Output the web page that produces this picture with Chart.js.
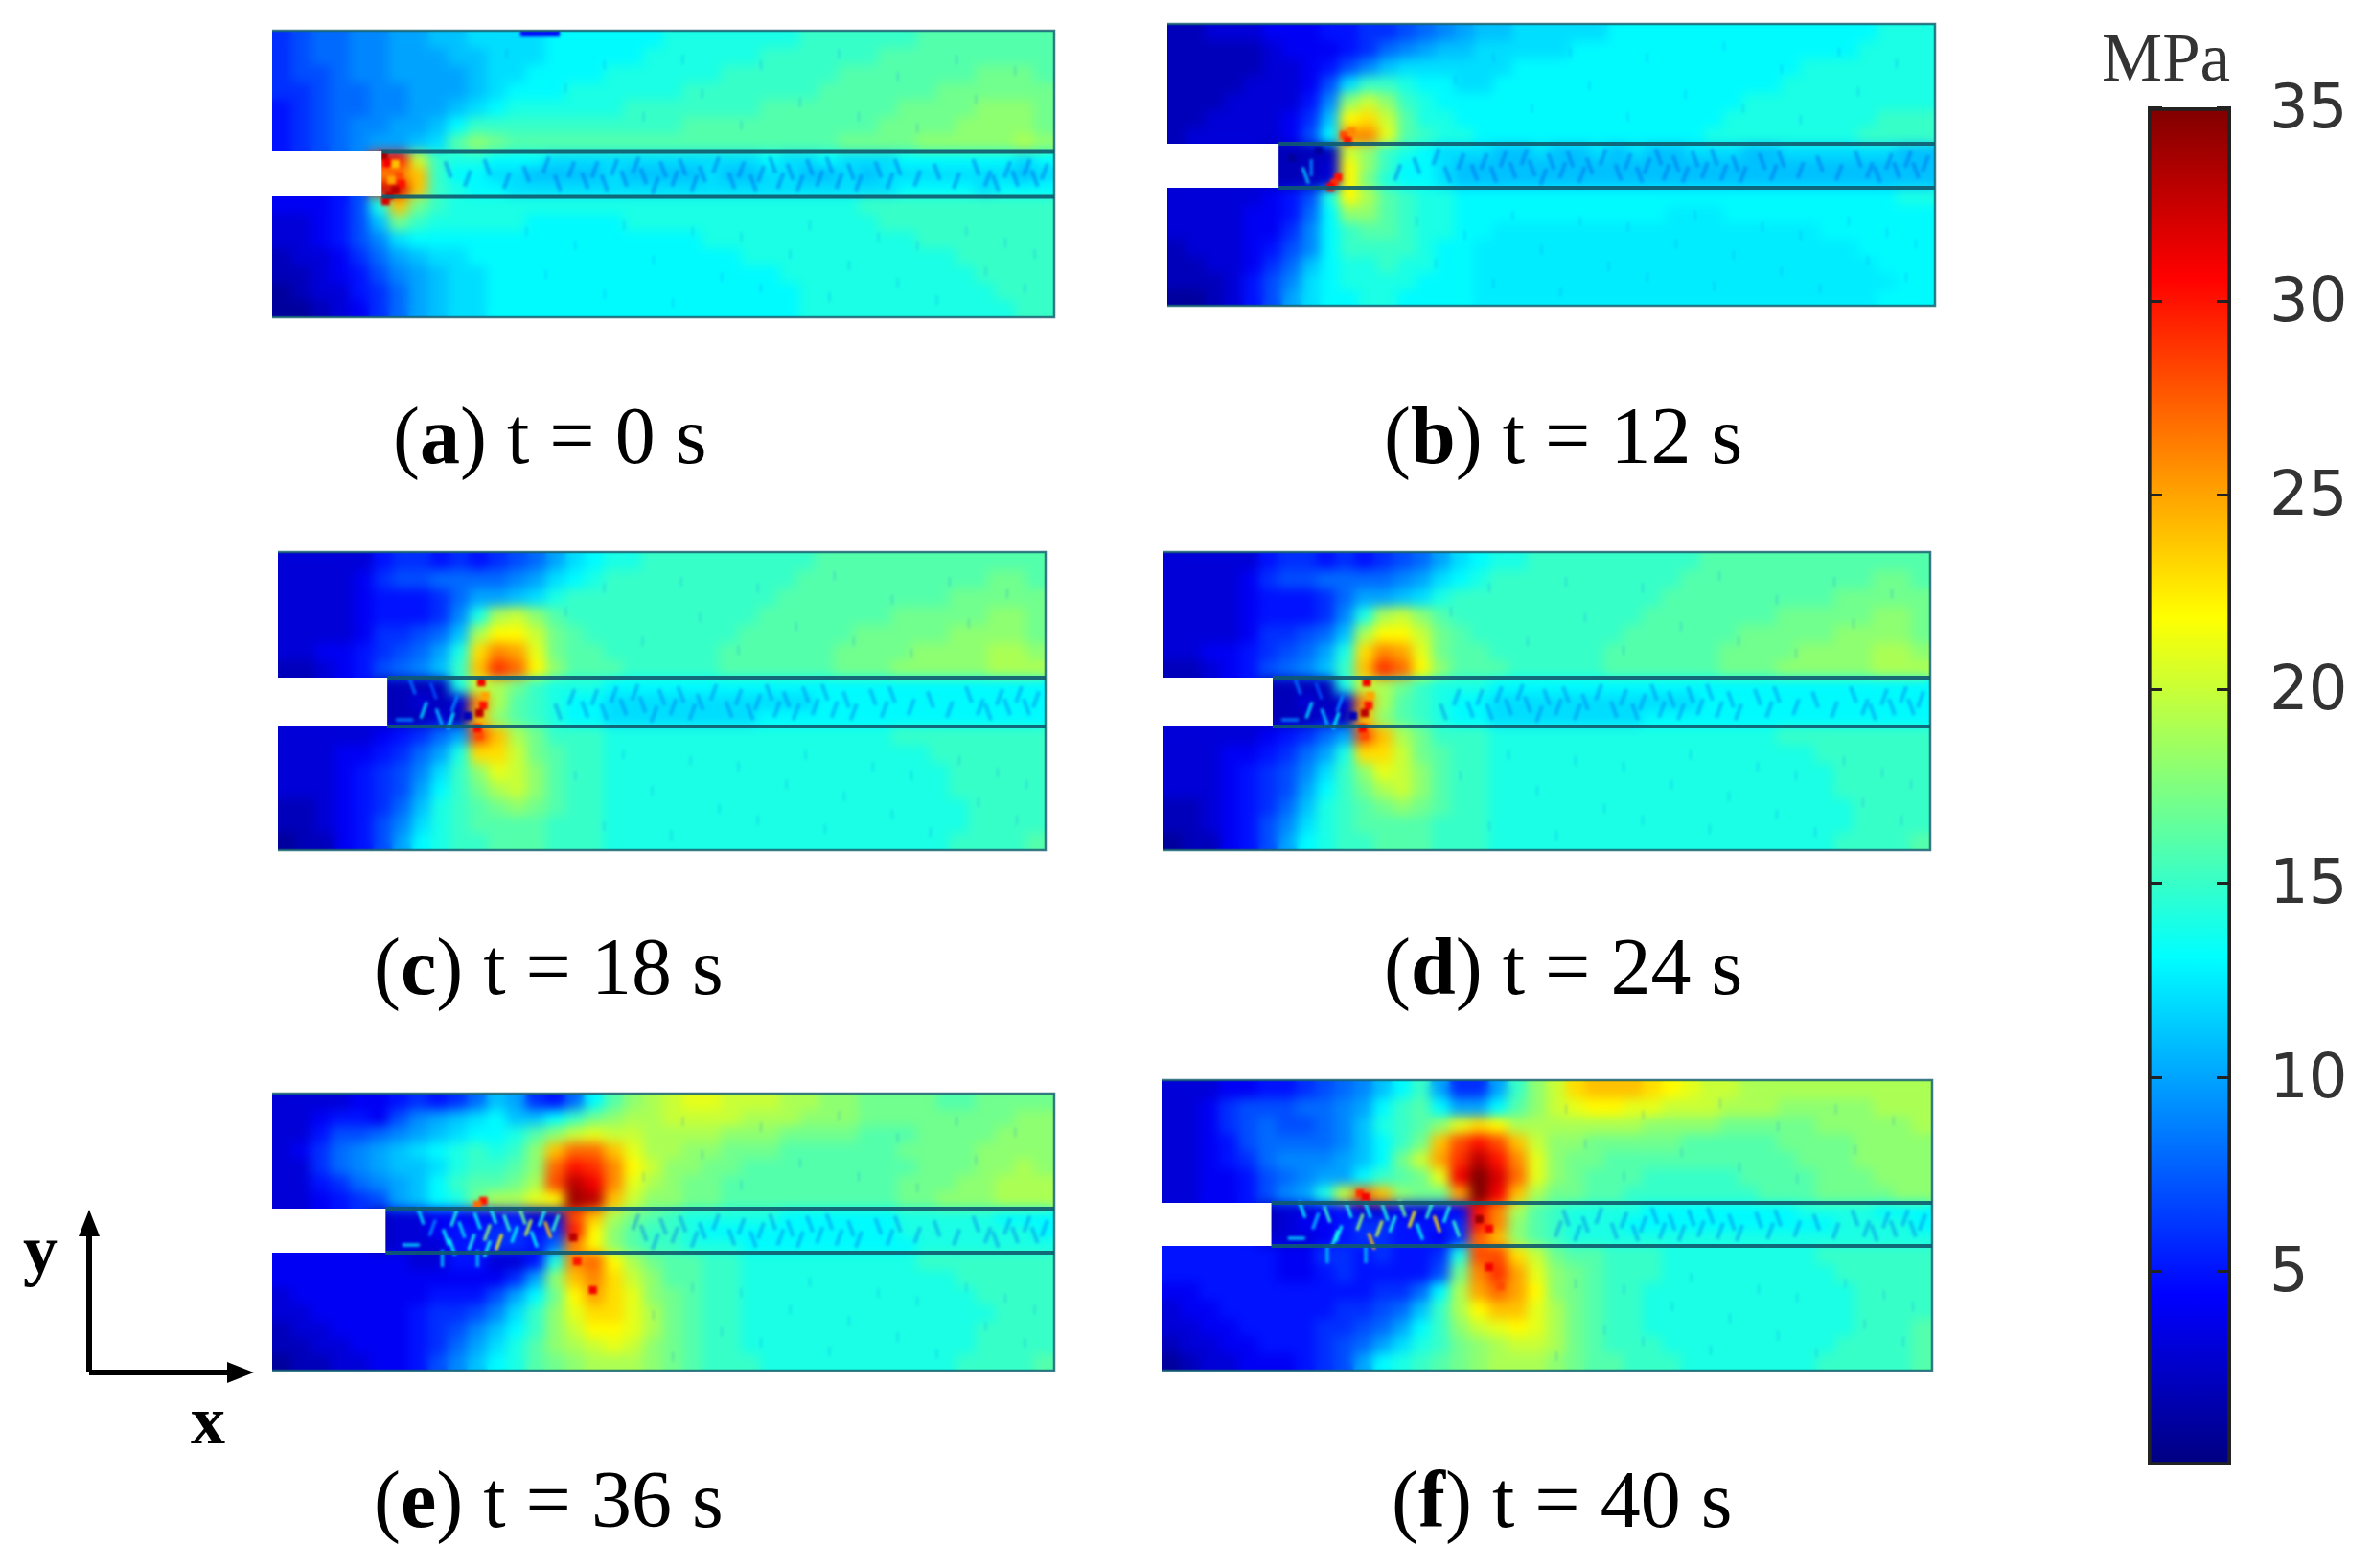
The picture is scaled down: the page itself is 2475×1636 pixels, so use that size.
<!DOCTYPE html>
<html>
<head>
<meta charset="utf-8">
<title>Stress field</title>
<script src="https://cdn.jsdelivr.net/npm/chart.js@4"></script>
<style>
  html, body { margin: 0; background: #fff; }
  #page { position: relative; width: 2475px; height: 1636px; overflow: hidden; }
  #page canvas { position: absolute; }
  .cap { position: absolute; font-family: "Liberation Serif", serif; font-size: 84px; line-height: 84px; color: #000; white-space: pre; }
  .axisName { position: absolute; font-family: "Liberation Serif", serif; font-weight: bold; font-size: 72px; line-height: 72px; color: #000; }
  #unit { position: absolute; left: 2193px; top: 24px; font-family: "Liberation Serif", serif; font-size: 71px; line-height: 72px; color: #333; }
  #axes { position: absolute; left: 0; top: 0; }
</style>
</head>
<body>
<div id="page">
  <svg id="axes" width="300" height="1500">
    <path d="M93 1432 V1285 M93 1432 H240" stroke="#000" stroke-width="6" fill="none"/>
    <path d="M93 1262 L82 1290 H104 Z M265 1432 L237 1421 V1443 Z" fill="#000"/>
  </svg>
  <div class="axisName" style="left:24px;top:1268px">y</div>
  <div class="axisName" style="left:199px;top:1446px">x</div>
  <div id="unit">MPa</div>
</div>
<script>
const n = null;
const captions = ["a", "b", "c", "d", "e", "f"];
const times = [0, 12, 18, 24, 36, 40];

// stress (MPa), 40 columns, rows top to bottom
const stressA = [
  [6,7,8,8,9,9,10,10,11,11,12,12,12,12,13,13,13,13,13,13,14,14,14,14,14,14,14,15,15,15,15,15,15,16,16,16,16,16,16,16],
  [6,7,8,8,9,9,10,10,10,11,11,12,12,12,13,13,13,13,13,14,14,14,14,14,14,15,15,15,15,15,15,16,16,16,16,16,16,16,16,16],
  [6,7,7,8,9,9,10,10,10,10,11,12,12,13,13,13,13,14,14,14,14,14,14,15,15,15,15,15,15,16,16,16,16,16,16,16,17,17,17,16],
  [6,6,7,8,8,9,9,10,10,10,11,12,13,13,13,14,14,14,14,14,14,15,15,15,15,15,15,15,16,16,16,16,16,16,17,17,17,17,17,17],
  [5,6,7,8,8,9,9,10,10,11,12,13,14,14,14,14,14,14,15,15,15,15,15,15,15,16,16,16,16,16,16,16,17,17,17,17,18,18,18,17],
  [5,6,7,8,9,9,10,10,11,13,15,15,15,15,15,15,15,15,15,15,15,16,16,16,16,16,16,16,16,16,16,17,17,17,17,18,18,18,18,17],
  [5,6,7,8,9,10,10,11,12,16,18,17,16,16,16,16,16,16,16,16,16,16,16,16,16,16,16,16,16,17,17,17,17,18,18,18,18,18,19,18],
  [n,n,n,n,n,30,30,20,15,14,14,13,13,13,12,12,12,12,12,12,12,12,12,12,12,13,12,12,13,12,12,12,13,13,13,13,13,13,12,13],
  [n,n,n,n,n,26,26,24,15,13,13,12,12,11,11,11,11,12,11,11,11,11,12,11,11,12,12,11,11,12,11,12,12,12,12,12,12,12,11,12],
  [n,n,n,n,n,32,32,24,15,14,13,13,12,12,12,12,12,12,12,12,12,12,12,12,12,12,12,12,12,12,12,12,13,13,13,13,12,13,13,13],
  [4,4,4,5,7,14,24,17,15,14,14,14,14,14,14,14,14,14,14,14,14,14,14,14,14,14,14,14,14,14,15,15,15,15,15,15,15,15,15,15],
  [3,3,4,5,7,11,17,15,14,14,14,14,14,13,13,13,13,13,14,14,14,14,14,14,14,14,14,14,14,14,14,15,15,15,15,15,15,15,15,15],
  [3,3,4,5,7,9,12,13,13,13,13,13,13,13,13,13,13,13,13,13,13,13,14,14,14,14,14,14,14,14,14,14,14,15,15,15,15,15,15,15],
  [2,3,3,4,6,8,10,11,12,12,13,13,13,13,13,13,13,13,13,13,13,13,13,13,14,14,14,14,14,14,14,14,14,14,14,15,15,15,15,15],
  [2,2,3,4,5,7,9,10,11,12,12,13,13,13,13,13,13,13,13,13,13,13,13,13,13,13,14,14,14,14,14,14,14,14,14,14,15,15,15,15],
  [1,2,3,3,5,6,8,10,11,12,12,13,13,13,13,13,13,13,13,13,13,13,13,13,13,13,13,14,14,14,14,14,14,14,14,14,14,15,15,15],
  [1,1,2,3,4,6,8,10,11,12,12,13,13,13,13,13,13,13,13,13,13,13,13,13,13,13,13,14,14,14,14,14,14,14,14,14,14,14,15,15],
];
const stressB = [
  [2,2,3,3,3,4,4,4,5,5,6,6,7,8,9,10,11,11,12,12,12,12,12,13,13,13,13,13,13,13,13,13,13,13,13,13,13,14,14,14],
  [2,2,2,2,2,3,4,4,4,5,6,8,9,10,11,11,12,12,12,12,12,13,13,13,13,13,13,13,13,13,13,13,13,13,13,13,14,14,14,14],
  [2,2,2,2,2,3,3,4,5,7,9,11,12,12,12,12,12,12,13,13,13,13,13,13,13,13,13,13,13,13,13,13,13,14,14,14,14,14,14,14],
  [2,2,2,2,3,3,3,4,7,12,15,15,14,13,13,12,12,13,13,13,13,13,13,13,13,13,13,13,13,13,13,13,14,14,14,14,14,14,14,14],
  [2,2,2,3,3,3,3,5,9,18,20,18,15,14,13,13,13,13,13,13,13,13,13,13,13,13,13,13,13,13,14,14,14,14,14,14,14,14,14,14],
  [2,2,3,3,3,3,4,6,11,22,23,20,16,14,14,13,13,13,13,13,13,13,13,13,13,13,13,13,13,14,14,14,14,14,14,14,14,15,15,15],
  [2,3,3,3,3,3,4,7,13,26,26,21,16,15,14,14,13,13,13,13,13,13,13,13,13,13,13,13,14,14,14,14,14,14,14,14,15,15,15,15],
  [n,n,n,n,n,2,2,2,2,20,18,15,14,13,12,12,12,11,11,12,11,11,12,11,12,11,11,12,12,12,11,11,12,12,12,12,12,12,11,11],
  [n,n,n,n,n,2,2,2,3,22,18,15,13,13,12,11,11,11,11,11,11,11,11,11,11,11,11,11,11,11,11,11,11,11,11,11,11,11,11,11],
  [n,n,n,n,n,2,2,2,3,22,17,14,13,13,12,11,11,11,11,11,11,11,11,11,11,11,11,11,11,11,11,11,11,11,11,11,11,11,11,11],
  [3,3,3,3,3,4,5,7,14,22,19,16,15,14,14,13,13,13,13,13,13,13,13,13,13,13,13,13,13,13,13,13,13,13,13,13,13,13,14,14],
  [3,3,3,3,4,4,5,8,13,18,18,16,15,14,14,13,13,13,13,13,13,13,13,13,13,13,12.5,12.5,12.5,13,13,13,13,13,13,13,13,13,13,13],
  [3,3,3,3,4,4,6,9,13,15,16,16,15,14,14,13,13,12.5,12.5,12.5,12.5,12.5,12.5,12.5,12.5,12.5,12.5,12.5,12.5,12.5,12.5,12.5,12.5,12.5,13,13,13,13,13,13],
  [2,3,3,3,4,5,7,9,13,15,15,15,15,14,13,13,12.5,12.5,12.5,12.5,12.5,12.5,12.5,12.5,12.5,12.5,12.5,12.5,12.5,12.5,12.5,12.5,12.5,12.5,12.5,12.5,13,13,13,13],
  [2,2,3,3,4,6,8,11,13,14,14,15,14,14,13,13,12.5,12.5,12.5,12.5,12.5,12.5,12.5,12.5,12.5,12.5,12.5,12.5,12.5,12.5,12.5,12.5,12.5,12.5,12.5,12.5,12.5,13,13,13],
  [2,2,2,3,5,7,9,12,13,14,14,14,14,13,13,13,12.5,12.5,12.5,12.5,12.5,12.5,12.5,12.5,12.5,12.5,12.5,12.5,12.5,12.5,12.5,12.5,12.5,12.5,12.5,12.5,12.5,12.5,13,13],
  [1,1,2,3,5,7,10,12,13,13,14,14,13,13,13,13,12.5,12.5,12.5,12.5,12.5,12.5,12.5,12.5,12.5,12.5,12.5,12.5,12.5,12.5,12.5,12.5,12.5,12.5,12.5,12.5,12.5,13,13,13],
];
// panels (c) and (d) show the same field
const stressC = [
  [3,3,3,3,3,5,6,6,5,6,5,6,7,8,10,12,13,14,14,15,15,15,15,15,15,15,15,15,16,16,16,16,16,16,16,16,16,16,16,16],
  [3,3,3,3,4,6,7,7,8,8,8,8,9,10,12,13,14,15,15,15,15,15,15,15,15,15,15,16,16,16,16,16,16,16,16,16,16,17,17,16],
  [3,3,3,3,4,5,5,5,6,8,10,10,11,12,14,15,15,15,15,15,15,15,15,15,15,15,16,16,16,16,16,16,16,16,16,17,17,17,17,17],
  [3,3,3,3,4,5,5,5,6,9,14,19,20,18,16,15,15,15,15,15,15,15,15,15,15,16,16,16,16,16,16,16,17,17,17,17,17,18,18,17],
  [3,3,3,3,4,6,6,7,8,11,19,22,22,20,17,16,15,15,15,15,15,15,15,15,16,16,16,16,16,16,17,17,17,17,17,18,18,18,18,17],
  [3,3,4,4,5,6,7,8,10,14,23,26,25,21,17,16,16,15,15,15,15,15,15,16,16,16,16,16,16,17,17,17,17,18,18,18,18,19,19,18],
  [2,2,3,4,5,7,8,9,11,15,24,29,27,22,18,16,16,16,15,15,15,15,15,16,16,16,16,16,16,17,17,17,18,18,18,18,18,19,19,19],
  [n,n,n,n,n,2,2,2,2,14,20,19,17,15,14,14,14,13,13,13,13,13,13,13,13,13,13,13,13,13,13,13,13,13,13,13,13,13,13,13],
  [n,n,n,n,n,2,2,3,2,3,26,19,16,15,14,13,13,12,12,12,12,12,12,12,12,12,12,12,13,13,13,13,13,13,13,13,13,13,13,13],
  [n,n,n,n,n,2,2,2,3,2,24,18,16,15,14,13,13,12,12,12,12,12,12,12,12,13,13,13,13,13,13,13,13,13,13,13,13,13,13,13],
  [3,3,3,3,3,4,5,6,8,10,28,24,19,17,15,15,15,14,14,14,14,14,14,14,14,14,14,14,14,14,14,14,15,15,15,15,15,15,15,15],
  [3,3,3,4,4,5,6,8,10,14,23,23,20,17,16,15,15,14,14,14,14,14,14,14,14,14,14,14,14,14,14,14,14,14,15,15,15,15,15,15],
  [3,3,3,4,5,6,7,9,12,15,18,21,20,18,16,15,15,14,14,14,14,14,14,14,14,14,14,14,14,14,14,14,14,14,14,15,15,15,15,15],
  [3,3,3,4,5,6,7,10,13,15,17,19,20,18,16,15,15,14,14,14,14,14,14,14,14,14,14,14,14,14,14,14,14,14,14,15,15,15,15,15],
  [2,2,3,4,5,6,8,11,14,15,16,17,18,17,16,15,15,14,14,14,14,14,14,14,14,14,14,14,14,14,14,14,14,14,14,14,15,15,15,15],
  [2,2,3,4,5,7,9,12,14,15,16,16,16,16,15,15,15,14,14,14,14,14,14,14,14,14,14,14,14,14,14,14,14,14,14,14,15,15,15,15],
  [1,2,2,4,5,7,10,13,14,15,15,16,16,16,15,15,15,14,14,14,14,14,14,14,14,14,14,14,14,14,14,14,14,14,14,15,15,15,15,16],
];
const stressE = [
  [3,3,3,3,4,4,5,6,5,6,8,11,10,6,5,8,13,16,18,19,20,21,21,20,20,20,19,19,18,18,17,17,17,17,16,16,17,17,17,17],
  [3,3,4,5,5,4,7,9,10,11,12,13,11,11,13,15,17,18,19,19,20,20,20,20,19,19,19,18,18,18,17,17,17,17,17,17,17,17,18,18],
  [3,3,5,7,7,8,9,10,11,12,13,13,14,16,18,20,21,20,20,19,19,19,19,18,18,18,17,17,17,17,16,16,16,17,17,17,17,18,18,18],
  [3,4,6,8,9,10,11,12,13,14,15,14,15,18,24,27,27,24,21,19,19,18,18,17,17,17,16,16,16,16,16,16,17,17,17,17,18,18,18,18],
  [3,3,6,8,9,10,11,11,12,14,15,15,16,18,27,30,29,26,22,20,18,18,17,17,16,16,16,16,16,16,16,16,16,17,17,17,18,18,19,18],
  [3,3,5,6,8,9,10,11,13,15,16,16,17,19,28,33,31,26,21,19,18,17,17,16,16,16,16,16,16,16,16,16,17,17,17,18,18,19,19,19],
  [3,3,4,5,6,7,10,11,13,14,17,19,19,21,22,34,33,24,20,18,18,17,17,16,16,16,16,16,16,16,16,16,17,17,18,18,18,19,19,19],
  [n,n,n,n,n,2,3,3,4,4,4,4,5,3,3,28,24,19,17,16,15,14,14,14,14,14,13,13,13,13,13,13,14,14,14,14,14,13,13,13],
  [n,n,n,n,n,2,3,3,4,5,5,6,6,5,6,30,22,18,16,15,15,14,13,13,13,13,13,13,13,13,13,13,14,14,14,14,14,14,14,13],
  [n,n,n,n,n,2,3,3,3,5,5,6,6,5,8,26,22,18,16,15,15,14,14,14,13,13,13,13,13,13,13,13,13,14,14,14,14,14,14,14],
  [4,4,4,4,4,4,4,3,3,5,5,3,3,5,14,26,27,22,19,17,16,16,15,15,14,14,14,14,14,14,14,14,14,15,15,15,15,15,15,15],
  [4,4,4,4,4,4,4,4,4,4,4,4,6,10,18,24,26,23,20,18,16,16,15,15,14,14,14,14,14,14,14,14,14,14,14,15,15,15,15,15],
  [3,4,4,4,4,4,4,4,5,5,5,7,10,13,17,22,25,23,21,18,17,16,15,15,14,14,14,14,14,14,14,14,14,14,14,14,15,15,15,15],
  [3,3,4,4,4,4,4,5,6,6,7,9,12,15,18,21,23,23,21,19,17,16,15,15,14,14,14,14,14,14,14,14,14,14,14,14,14,15,15,15],
  [2,3,3,4,4,4,4,5,6,7,9,11,13,15,18,20,22,22,21,19,17,16,15,15,14,14,14,14,14,14,14,14,14,14,14,14,15,15,15,15],
  [2,2,3,3,4,4,4,5,6,8,10,12,14,16,18,19,20,21,20,18,17,16,15,15,14,14,14,14,14,14,14,14,14,14,14,14,15,15,15,15],
  [1,2,2,3,3,4,4,5,7,9,11,13,14,16,17,18,19,19,19,18,17,16,15,15,15,14,14,14,14,14,14,14,14,14,14,15,15,15,15,16],
];
const stressF = [
  [3,3,3,4,4,5,5,6,7,8,9,11,13,15,10,6,6,10,15,18,20,23,24,24,24,23,22,21,20,20,19,19,19,19,19,19,19,19,19,19],
  [3,3,4,6,7,7,7,8,8,9,10,13,15,16,13,10,10,13,16,18,20,21,22,22,21,21,20,20,20,19,19,19,18,18,18,18,18,19,19,19],
  [3,3,4,6,7,8,7,7,8,9,11,14,15,16,18,21,23,22,19,19,19,19,19,19,19,18,18,18,18,17,17,17,17,17,18,18,18,18,18,19],
  [3,3,4,5,7,8,8,8,8,9,11,13,15,17,24,28,30,28,24,20,18,18,17,17,17,17,17,16,16,16,16,16,17,17,17,17,18,18,18,18],
  [3,3,4,5,6,8,9,9,9,10,11,13,17,20,25,29,33,30,26,21,18,17,17,16,16,16,16,16,16,16,16,16,16,17,17,17,18,18,18,18],
  [3,3,4,4,5,7,8,9,10,10,13,15,16,17,21,31,35,32,27,21,18,17,16,16,16,15,15,15,15,15,16,16,16,16,17,17,17,18,18,18],
  [3,3,4,4,5,7,9,10,14,20,27,24,18,17,17,25,35,31,24,19,17,17,16,16,15,15,15,15,15,15,15,16,16,16,17,17,17,17,18,18],
  [n,n,n,n,n,2,3,3,4,5,3,3,4,3,4,4,30,26,19,16,15,14,14,14,14,13,13,13,13,13,13,13,13,14,14,14,14,13,13,13],
  [n,n,n,n,n,2,3,4,4,5,6,6,5,5,5,6,30,26,18,16,15,14,14,14,13,13,13,13,13,13,13,13,13,13,13,14,14,14,14,13],
  [n,n,n,n,n,3,3,3,4,5,6,6,5,5,4,6,27,24,18,16,15,14,14,14,14,14,14,14,14,14,14,14,14,14,14,14,14,14,14,14],
  [5,5,5,5,5,5,4,4,6,6,5,6,5,5,6,14,28,28,23,20,17,16,16,15,15,15,14,14,14,14,14,14,14,14,15,15,15,15,15,15],
  [5,5,5,5,5,5,4,4,5,6,5,5,5,5,7,17,26,29,25,21,18,17,16,15,15,15,14,14,14,14,14,14,14,14,14,15,15,15,15,15],
  [4,4,5,5,5,5,5,5,5,5,5,6,6,8,13,19,25,27,25,22,18,17,16,15,15,14,14,14,14,14,14,14,14,14,14,14,15,15,15,15],
  [3,4,4,5,5,5,5,5,5,6,6,7,8,11,15,19,22,24,24,21,19,17,16,15,15,14,14,14,14,14,14,14,14,14,14,14,15,15,15,15],
  [3,3,4,4,5,5,5,5,6,6,7,8,10,13,15,18,20,21,22,21,19,17,16,15,15,14,14,14,14,14,14,14,14,14,14,14,15,15,15,16],
  [2,3,3,4,4,5,5,5,6,7,8,10,12,14,15,17,18,19,20,20,19,17,16,15,15,15,14,14,14,14,14,14,14,14,14,15,15,15,15,16],
  [1,2,3,3,4,4,4,5,6,7,10,13,14,15,16,17,18,19,19,19,18,17,16,16,15,15,15,14,14,14,14,14,14,14,15,15,15,15,15,16],
];

// row heights of each field, top to bottom
const rowsA = [18,18,18,18,18,18,18,16,16,15,18,18,18,18,18,18,18];
const rowsB = [18,18,18,18,18,18,17,16,15,15,18,18,18,18,17,17,17];
const rowsC = [19,19,19,19,19,18,18,17,17,17,19,19,19,18,18,18,18];
const rowsE = [17,17,17,17,17,17,18,16,15,15,18,18,18,18,17,17,17];
const rowsF = [19,19,18,18,18,18,18,15,15,15,19,19,19,19,18,18,18];

// fine grains on top of the smooth field: [column, height from top, MPa, tilt of a streak if it is one]
const grainsA = [[12.9,2,5],[13.3,2,5],[13.7,2,5],[14.1,2,5],[14.5,2,5],[5.7,130,34],[5.9,138,31],[6.2,146,27],[6.5,152,28],[6.6,160,30],[6.3,166,33],[6,172,33],[5.8,178,32],[6.3,139,24],[6.1,156,25]];
const grainsB = [[9.2,116,28],[9.6,112,26],[9.4,122,30],[8.9,160,30],[8.7,166,29],[8.5,170,31],[6.5,140,1],[7.5,150,9,90],[7.9,132,1],[7.2,158,11,70]];
const grainsC = [[10.6,136,31],[10.8,150,25],[10.7,160,30],[10.5,168,33],[9.9,171,2],[10.4,184,31],[7,140,8,70],[7.6,165,12,110],[8.4,172,11,70],[9,176,13,110],[8.1,145,7,70],[9.2,158,9,110],[6.6,175,9,0],[10.5,192,28]];
const grainsE = [[7.6,128,12,70],[8.2,140,9,110],[8.9,150,13,70],[9.3,130,14,110],[9.7,142,12,70],[10.2,155,14,110],[10.5,133,13,70],[11,145,18,110],[11.3,127,14,70],[11.6,155,22,110],[12,135,15,70],[12.4,147,13,110],[12.8,128,17,70],[13.1,140,20,110],[13.4,152,13,70],[13.8,130,14,110],[14.1,142,24,70],[14.5,135,15,110],[9.2,160,13,70],[11,162,14,110],[7.1,158,12,0],[8.7,172,11,90],[10.5,172,11,90],[10.8,112,30],[10.5,116,27],[15.4,150,33],[15.6,175,30],[16.4,205,31]];
const grainsF = [[7.3,135,13,70],[8,147,11,110],[8.6,140,15,70],[9.2,160,13,110],[9.7,135,14,70],[10.3,148,18,110],[10.7,135,13,70],[11.3,155,20,110],[11.6,138,14,70],[12,150,14,110],[12.5,134,17,70],[13,145,22,110],[13.4,158,13,70],[13.9,136,15,110],[14.3,150,23,70],[14.8,140,14,110],[15.3,155,15,70],[9,165,14,110],[10.9,168,24,70],[7,165,12,0],[8.6,182,11,90],[10.6,182,11,90],[10.3,118,29],[10.6,122,31],[16.5,145,34],[17,155,31],[17,195,31],[17.6,215,28]];

// darker streaks in the band right of the crack: [column, share of the band height, tilt]
const bandStreaks = [[9,.4,70],[10,.6,110],[11,.35,70],[12,.65,110],[13,.5,70],[14,.3,110],[14.6,.7,70],[15.3,.4,110],[16,.65,70],[16.5,.4,110],[17,.7,70],[17.5,.35,110],[18,.6,70],[18.6,.3,110],[19,.55,70],[19.6,.75,110],[20,.4,70],[20.6,.6,110],[21,.35,70],[21.6,.7,110],[22,.5,70],[22.7,.3,110],[23.5,.65,70],[24,.4,110],[24.6,.7,70],[25,.5,110],[25.6,.3,70],[26,.65,110],[26.5,.45,70],[27,.7,110],[27.5,.35,70],[28,.6,110],[28.5,.3,70],[29,.65,110],[29.6,.45,70],[30,.7,110],[31,.4,70],[31.6,.65,110],[32,.35,70],[33,.6,110],[34,.45,70],[35,.65,110],[36,.35,70],[36.6,.6,110],[37,.7,70],[37.6,.4,110],[38,.6,70],[38.6,.35,110],[39,.6,70],[39.5,.45,110]];

// faint specks all over the two solid blocks: [column, share of the panel height]
const fieldSpecks = [[12,.08],[15,.2],[17,.12],[19,.3],[21,.1],[22,.22],[24,.33],[25,.12],[27,.25],[29,.08],[30,.3],[32,.16],[33,.34],[35,.1],[36,.24],[38,.14],[13,.7],[14,.85],[15.5,.75],[17,.92],[18,.68],[19.5,.8],[20.5,.95],[21.5,.7],[23,.86],[24,.72],[25,.9],[26.5,.78],[27.5,.68],[28.5,.93],[29.5,.82],[31,.72],[32,.88],[33,.75],[34,.94],[35.5,.7],[36.5,.84],[37.5,.74],[38.5,.9],[39,.78]];

// colour bar
const barRange = [0, 35];
const barTicks = [5, 10, 15, 20, 25, 30, 35];

// jet colour map
const jetStops = [[0, [0,0,128]], [.125, [0,0,255]], [.375, [0,255,255]], [.625, [255,255,0]], [.875, [255,0,0]], [1, [128,0,0]]];

function jet(v) {
  const t = Math.min(1, Math.max(0, v / barRange[1]));
  for (let i = 1; i < jetStops.length; i++) {
    if (t <= jetStops[i][0]) {
      const [t0, c0] = jetStops[i - 1];
      const [t1, c1] = jetStops[i];
      const f = (t - t0) / (t1 - t0);
      return `rgb(${c0.map((c, k) => Math.round(c + (c1[k] - c) * f)).join(",")})`;
    }
  }
  return "rgb(128,0,0)";
}

const page = document.getElementById("page");

// softens what has been drawn so far, after the datasets that ask for it
const smoothPlugin = {
  id: "smooth",
  afterDatasetDraw(chart, args) {
    const blur = chart.data.datasets[args.index].blurAfter;
    if (!blur) return;
    const { ctx, chartArea: a } = chart;
    ctx.save();
    ctx.beginPath();
    ctx.rect(a.left, a.top, a.right - a.left, a.bottom - a.top);
    ctx.clip();
    ctx.filter = `blur(${blur}px)`;
    ctx.drawImage(ctx.canvas, 0, 0);
    ctx.restore();
  },
};

function drawPanel(box, stress, rows, grains) {
  const pad = 16;
  const canvas = document.createElement("canvas");
  canvas.width = box.w + pad * 2;
  canvas.height = box.h + pad * 2;
  canvas.style.left = box.x - pad + "px";
  canvas.style.top = box.y - pad + "px";
  page.appendChild(canvas);

  const cols = stress[0].length;
  const total = rows.reduce((a, b) => a + b, 0);
  const bandTop = rows.slice(0, 7).reduce((a, b) => a + b, 0);
  const bandBottom = rows.slice(0, 10).reduce((a, b) => a + b, 0);
  const bandSize = bandBottom - bandTop;

  let y = 0;
  const datasets = stress.map((row, i) => {
    const y0 = y;
    y += rows[i];
    return {
      type: "bar",
      order: 10,
      grouped: false,
      barPercentage: 1.08,
      categoryPercentage: 1,
      borderWidth: 0,
      blurAfter: i === 0 ? 6 : 0,
      data: row.map(v => (v === null ? null : [y0, y])),
      backgroundColor: row.map(v => (v === null ? "#fff" : jet(v))),
    };
  });

  const line = (points, color, width, order, extra) => ({
    type: "line", xAxisID: "x2", order, data: points.map(p => ({ x: p[0], y: p[1] })),
    borderColor: color, borderWidth: width, pointRadius: 0, tension: 0, clip: false, ...extra,
  });

  const specks = fieldSpecks.filter(s => s[0] > box.streakFrom);
  datasets.push({
    type: "scatter", xAxisID: "x2", order: 7, pointStyle: "line", pointRadius: 5, pointRotation: 90,
    pointBorderWidth: 2, pointBorderColor: "rgba(0,110,240,0.22)",
    data: specks.map(s => ({ x: s[0], y: s[1] * total })),
  });
  const streaks = bandStreaks.filter(s => s[0] > box.streakFrom);
  datasets.push({
    type: "scatter", xAxisID: "x2", order: 6, pointStyle: "line", pointRadius: 9,
    pointRotation: streaks.map(s => s[2]),
    pointBorderWidth: 4, pointBorderColor: `rgba(0,110,235,${box.streakAlpha})`,
    data: streaks.map(s => ({ x: s[0], y: bandTop + s[1] * bandSize })),
  });
  datasets.push({
    type: "scatter", xAxisID: "x2", order: 5, blurAfter: 1.6,
    pointStyle: grains.map(g => (g[3] === undefined ? "rect" : "line")),
    pointRadius: grains.map(g => (g[3] === undefined ? 4 : 9)),
    pointRotation: grains.map(g => g[3] || 0),
    pointBorderWidth: 3,
    pointBorderColor: grains.map(g => jet(g[2])),
    pointBackgroundColor: grains.map(g => jet(g[2])),
    data: grains.map(g => ({ x: g[0], y: g[1] })),
  });
  datasets.push(line([[0, 0], [cols, 0], [cols, total], [0, total]], "rgba(25,100,115,0.85)", 2.5, 4));
  datasets.push(line([[box.notch, bandTop], [cols, bandTop]], "rgba(15,90,110,0.9)", box.bandLine, 3));
  datasets.push(line([[box.notch, bandBottom], [cols, bandBottom]], "rgba(15,90,110,0.9)", box.bandLine, 3));
  datasets.push(line([[0, bandTop], [box.notch, bandTop], [box.notch, bandBottom], [0, bandBottom], [0, bandTop]],
    "#fff", 0, 2, { fill: "shape", backgroundColor: "#fff" }));

  new Chart(canvas, {
    type: "bar",
    data: { labels: stress[0].map((_, i) => i), datasets },
    plugins: [smoothPlugin],
    options: {
      responsive: false,
      animation: false,
      layout: { padding: pad },
      plugins: { legend: { display: false }, tooltip: { enabled: false } },
      scales: {
        x: { display: false },
        x2: { type: "linear", display: false, min: 0, max: cols, offset: false },
        y: { display: false, min: 0, max: total, reverse: true },
      },
    },
  });
}

const panelBoxes = [
  { x: 284, y: 32, w: 816, h: 299, notch: 5.6, streakFrom: 8.5, streakAlpha: 0.5, bandLine: 5 },
  { x: 1218, y: 25, w: 801, h: 294, notch: 5.8, streakFrom: 11, streakAlpha: 0.5, bandLine: 4 },
  { x: 290, y: 576, w: 801, h: 311, notch: 5.7, streakFrom: 14.5, streakAlpha: 0.4, bandLine: 4 },
  { x: 1214, y: 576, w: 800, h: 311, notch: 5.7, streakFrom: 14.5, streakAlpha: 0.4, bandLine: 4 },
  { x: 284, y: 1141, w: 816, h: 289, notch: 5.8, streakFrom: 18, streakAlpha: 0.4, bandLine: 4 },
  { x: 1212, y: 1127, w: 804, h: 303, notch: 5.7, streakFrom: 20, streakAlpha: 0.4, bandLine: 4 },
];
const fields = [stressA, stressB, stressC, stressC, stressE, stressF];
const fieldRows = [rowsA, rowsB, rowsC, rowsC, rowsE, rowsF];
const fieldGrains = [grainsA, grainsB, grainsC, grainsC, grainsE, grainsF];
fields.forEach((f, i) => drawPanel(panelBoxes[i], f, fieldRows[i], fieldGrains[i]));

// captions
const capBoxes = [[410, 413], [1444, 413], [390, 967], [1444, 967], [390, 1523], [1452, 1523]];
captions.forEach((c, i) => {
  const el = document.createElement("div");
  el.className = "cap";
  el.style.left = capBoxes[i][0] + "px";
  el.style.top = capBoxes[i][1] + "px";
  el.innerHTML = `(<b>${c}</b>) t = ${times[i]} s`;
  page.appendChild(el);
});

// colour bar chart
const barCanvas = document.createElement("canvas");
barCanvas.width = 245;
barCanvas.height = 1497;
barCanvas.style.left = "2230px";
barCanvas.style.top = "72px";
page.appendChild(barCanvas);

new Chart(barCanvas, {
  type: "bar",
  data: {
    labels: ["MPa"],
    datasets: [{
      data: [barRange],
      categoryPercentage: 1,
      barPercentage: 1,
      borderWidth: 4,
      borderColor: "#222",
      borderSkipped: false,
      backgroundColor(context) {
        const { chart } = context;
        if (!chart.chartArea) return "#000";
        const s = chart.scales.y;
        const g = chart.ctx.createLinearGradient(0, s.getPixelForValue(barRange[0]), 0, s.getPixelForValue(barRange[1]));
        jetStops.forEach(st => g.addColorStop(st[0], `rgb(${st[1].join(",")})`));
        return g;
      },
    }],
  },
  options: {
    responsive: false,
    animation: false,
    layout: { padding: { left: 11, top: 40, bottom: 40, right: 0 } },
    plugins: { legend: { display: false }, tooltip: { enabled: false } },
    scales: {
      x: { display: false },
      y: {
        position: "right",
        min: barRange[0],
        max: barRange[1],
        afterBuildTicks: s => { s.ticks = barTicks.map(v => ({ value: v })); },
        afterFit: s => { s.width = 147; s.paddingTop = 0; s.paddingBottom = 0; },
        grid: { color: "#222", lineWidth: 3, drawTicks: false, z: 1 },
        border: { display: false, dash: [15, 57] },
        ticks: { padding: 40, labelOffset: 4, color: "#333", autoSkip: false, font: { family: "DejaVu Sans", size: 64 } },
      },
    },
  },
});
</script>
</body>
</html>
